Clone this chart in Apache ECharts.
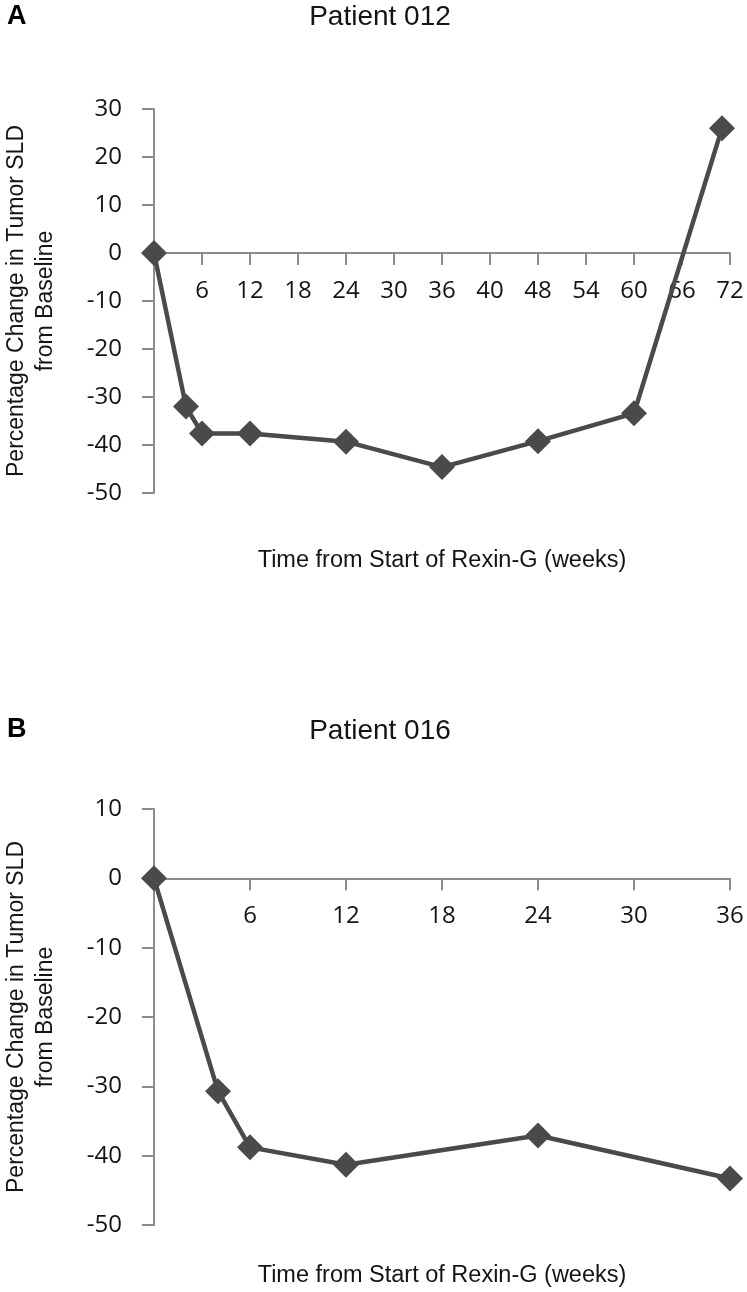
<!DOCTYPE html>
<html>
<head>
<meta charset="utf-8">
<script src="https://cdn.jsdelivr.net/npm/echarts@6/dist/echarts.min.js"></script>
<style>
html,body{margin:0;padding:0;background:#fff;}
#c{width:747px;height:1292px;}
</style>
</head>
<body>
<div id="c"></div>
<script>
// Panel A – Patient 012
const weeksA = [0, 4, 6, 12, 24, 36, 48, 60, 71];
const changeA = [0, -32, -37.6, -37.6, -39.3, -44.6, -39.2, -33.4, 26];
const xTickLabelsA = ['6', '12', '18', '24', '30', '36', '40', '48', '54', '60', '66', '72'];

// Panel B – Patient 016
const weeksB = [0, 4, 6, 12, 24, 36];
const changeB = [0, -30.7, -38.8, -41.3, -37.1, -43.3];
const xTickLabelsB = ['6', '12', '18', '24', '30', '36'];

const titleA = 'Patient 012';
const titleB = 'Patient 016';
const yName = 'Percentage Change in Tumor SLD\nfrom Baseline';
const xName = 'Time from Start of Rexin-G (weeks)';

const AXIS = '#8c8c8c';
const INK = '#4a4a4a';
const TXT = '#141414';
const TICKFONT = '"Open Sans", sans-serif';
const HELV = '"Liberation Sans", Arial, sans-serif';

const grids = [
  { left: 154, top: 109, width: 576, height: 384 },
  { left: 154, top: 809, width: 576, height: 416 }
];
const yRanges = [[-50, 30], [-50, 10]];

function zip(xs, ys) { return xs.map((x, i) => [x, ys[i]]); }

function xAxisCfg(gi, max, labels) {
  const r = yRanges[gi];
  // lift the x axis (line, ticks and labels) up to y = 0
  const lift = (0 - r[0]) / (r[1] - r[0]) * grids[gi].height;
  return {
    type: 'value', gridIndex: gi, min: 0, max: max, interval: 6,
    position: 'bottom', offset: -lift,
    axisLine: { show: true, onZero: false, lineStyle: { color: AXIS, width: 2 } },
    axisTick: { show: true, length: 12, lineStyle: { color: AXIS, width: 2 } },
    splitLine: { show: false },
    axisLabel: {
      margin: 26, fontSize: 24, fontFamily: TICKFONT, color: TXT,
      formatter: v => v === 0 ? '' : (labels[Math.round(v / 6) - 1] || '')
    }
  };
}
function yAxisCfg(gi) {
  return {
    type: 'value', gridIndex: gi, min: yRanges[gi][0], max: yRanges[gi][1], interval: 10,
    axisLine: { show: true, onZero: false, lineStyle: { color: AXIS, width: 2 } },
    axisTick: { show: true, length: 12, lineStyle: { color: AXIS, width: 2 } },
    splitLine: { show: false },
    axisLabel: { margin: 32, fontSize: 24, fontFamily: TICKFONT, color: TXT }
  };
}
function seriesCfg(i, data) {
  return {
    type: 'line', xAxisIndex: i, yAxisIndex: i, data: data, clip: false,
    symbol: 'diamond', symbolSize: 26,
    lineStyle: { color: INK, width: 4.5 },
    itemStyle: { color: INK },
    animation: false, z: 5
  };
}
function txt(x, y, text, font, extra, opts) {
  return Object.assign({
    type: 'text', x: x, y: y, z: 10,
    style: Object.assign({
      text: text, font: font, fill: TXT,
      align: 'center', verticalAlign: 'middle',
      textAlign: 'center', textVerticalAlign: 'middle'
    }, extra || {})
  }, opts || {});
}

const chart = echarts.init(document.getElementById('c'), null, { renderer: 'canvas' });
chart.setOption({
  animation: false,
  backgroundColor: '#ffffff',
  grid: grids.map(g => Object.assign({ containLabel: false }, g)),
  xAxis: [xAxisCfg(0, 72, xTickLabelsA), xAxisCfg(1, 36, xTickLabelsB)],
  yAxis: [yAxisCfg(0), yAxisCfg(1)],
  series: [seriesCfg(0, zip(weeksA, changeA)), seriesCfg(1, zip(weeksB, changeB))],
  graphic: [
    txt(7, 17, 'A', 'bold 27px ' + HELV, { fill: '#000', align: 'left', textAlign: 'left' }),
    txt(380, 17, titleA, '28px ' + HELV),
    txt(442, 561, xName, '23.5px ' + HELV),
    txt(31, 301, yName, '23px ' + HELV, { lineHeight: 29 }, { rotation: Math.PI / 2 }),
    txt(7, 730, 'B', 'bold 27px ' + HELV, { fill: '#000', align: 'left', textAlign: 'left' }),
    txt(380, 731, titleB, '28px ' + HELV),
    txt(442, 1276, xName, '23.5px ' + HELV),
    txt(31, 1017, yName, '23px ' + HELV, { lineHeight: 29 }, { rotation: Math.PI / 2 })
  ]
});
</script>
</body>
</html>
